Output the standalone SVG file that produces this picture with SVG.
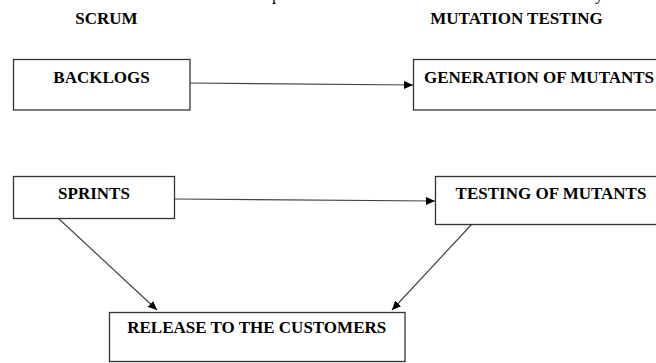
<svg xmlns="http://www.w3.org/2000/svg" width="656" height="363" viewBox="0 0 656 363">
<style>
.box{fill:#fff;stroke:#333;stroke-width:1.3}
.lbl{font-family:"Liberation Serif","Times New Roman",serif;font-weight:bold;font-size:17px;fill:#000;text-anchor:middle}
.frag{font-family:"Liberation Serif","Times New Roman",serif;font-size:17px;fill:#000}
.con{fill:none;stroke:#444;stroke-width:1.2}
</style>
<defs>
<marker id="arr" markerUnits="userSpaceOnUse" markerWidth="10" markerHeight="8" refX="9" refY="4" orient="auto">
<path d="M0,0 L9,4 L0,8 z" fill="#000"/>
</marker>
</defs>
<rect width="656" height="363" fill="#fff"/>
<text class="frag" x="272" y="-0.5">p</text>
<text class="frag" x="595" y="-0.5">y</text>
<text class="lbl" x="106.5" y="24">SCRUM</text>
<text class="lbl" x="516.5" y="24">MUTATION TESTING</text>
<g id="connectors">
<path class="con" d="M190,83 L413,85" marker-end="url(#arr)"/>
<path class="con" d="M174,199 L435,201" marker-end="url(#arr)"/>
<path class="con" d="M58,218 L157,310" marker-end="url(#arr)"/>
<path class="con" d="M472,224 L392,310" marker-end="url(#arr)"/>
</g>
<g id="backlogs">
<rect class="box" x="13.5" y="59.5" width="176.5" height="50.5"/>
<text class="lbl" x="101.5" y="83">BACKLOGS</text>
</g>
<g id="generation">
<rect class="box" x="413.5" y="59.5" width="252" height="50.5"/>
<text class="lbl" x="539" y="83">GENERATION OF MUTANTS</text>
</g>
<g id="sprints">
<rect class="box" x="13.5" y="176.5" width="161" height="42"/>
<text class="lbl" x="94" y="199">SPRINTS</text>
</g>
<g id="testing">
<rect class="box" x="435.5" y="176.5" width="232" height="48"/>
<text class="lbl" x="551" y="199">TESTING OF MUTANTS</text>
</g>
<g id="release">
<rect class="box" x="109.5" y="312.5" width="295.5" height="49"/>
<text class="lbl" x="256.7" y="333">RELEASE TO THE CUSTOMERS</text>
</g>
</svg>
